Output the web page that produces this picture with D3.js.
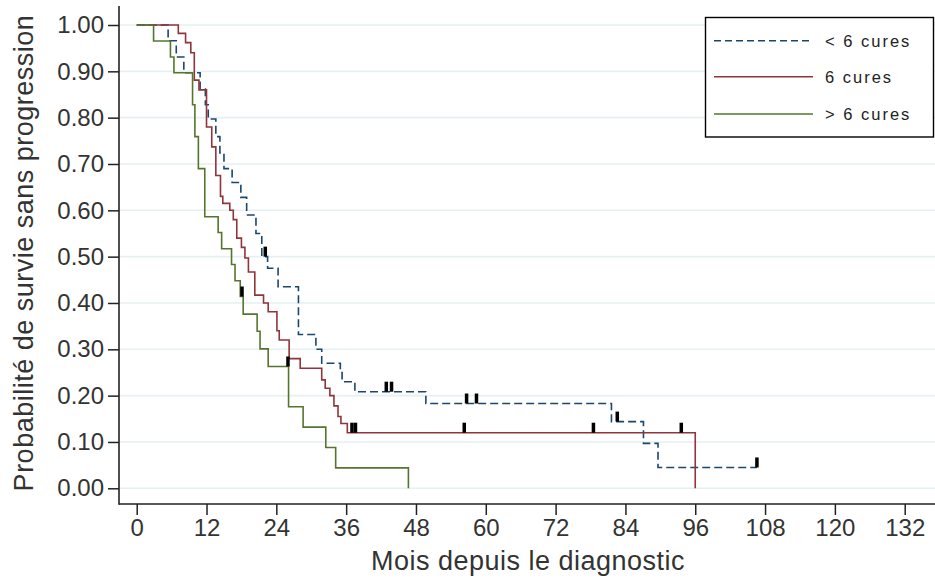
<!DOCTYPE html>
<html>
<head>
<meta charset="utf-8">
<script src="https://cdn.jsdelivr.net/npm/d3@7"></script>
<style>
  html, body { margin: 0; padding: 0; background: #fff; }
  svg { display: block; font-family: "Liberation Sans", Arial, sans-serif; }
</style>
</head>
<body>
<svg id="chart" width="935" height="579"></svg>
<script>
// ---- data ----
const groups = ["< 6 cures", "6 cures", "> 6 cures"];
const xTicks = [0, 12, 24, 36, 48, 60, 72, 84, 96, 108, 120, 132];
const yTicks = [0, 0.1, 0.2, 0.3, 0.4, 0.5, 0.6, 0.7, 0.8, 0.9, 1.0];
const xTitle = "Mois depuis le diagnostic";
const yTitle = "Probabilité de survie sans progression";

// Kaplan-Meier steps: [month, survival after the step]
const stepsLess6 = [[0,1],[5.4,0.966],[6.8,0.931],[8.1,0.897],[10.9,0.862],[11.8,0.828],[12.3,0.797],
  [13.6,0.759],[14.3,0.724],[15.0,0.690],[16.4,0.660],[17.9,0.628],[18.9,0.59],[20.5,0.55],[21.5,0.50],
  [22.5,0.475],[24.3,0.435],[27.8,0.332],[30.8,0.30],[31.8,0.27],[35.0,0.25],[35.3,0.23],[37.5,0.2085],
  [49.7,0.183],[81.6,0.144],[87.1,0.097],[89.6,0.045],[106.6,0.045]];
const censLess6 = [22.1, 42.9, 43.8, 56.7, 58.4, 82.6, 106.6];

const steps6 = [[0,1],[7.15,0.982],[8.4,0.962],[9.3,0.94],[9.9,0.881],[10.7,0.86],[12.0,0.78],[12.9,0.737],
  [13.6,0.675],[14.4,0.63],[14.8,0.615],[16.0,0.60],[16.6,0.58],[17.2,0.54],[18.0,0.52],[18.6,0.497],
  [19.2,0.467],[20.3,0.417],[21.8,0.40],[22.6,0.381],[24.1,0.34],[24.5,0.32],[26.2,0.28],[28.1,0.259],
  [31.8,0.234],[32.4,0.216],[33.2,0.20],[33.9,0.178],[34.6,0.155],[35.1,0.14],[36.2,0.12],[96.0,0]];
const cens6 = [37.0, 37.6, 56.3, 78.5, 93.6];

const stepsMore6 = [[0,1],[2.9,0.9655],[5.8,0.931],[6.4,0.897],[9.6,0.828],[10.0,0.759],[10.6,0.690],
  [11.7,0.586],[14.0,0.552],[14.6,0.517],[16.3,0.483],[16.9,0.448],[17.8,0.414],[18.3,0.376],[20.7,0.339],
  [21.2,0.301],[22.6,0.263],[26.1,0.176],[28.6,0.132],[32.5,0.088],[34.2,0.044],[46.7,0]];
const censMore6 = [18.1, 26.0];

const colors = ["#1a476f", "#90353b", "#55752f"];

// ---- layout ----
const svg = d3.select("#chart");
const x = d3.scaleLinear().domain([0, 132]).range([136.7, 904.7]);
const y = d3.scaleLinear().domain([0, 1]).range([488.3, 25]);
const plotLeft = 119, plotRight = 935, axisY = 504, plotTop = 6;

// gridlines
svg.append("g").selectAll("line").data(yTicks).join("line")
  .attr("x1", plotLeft).attr("x2", plotRight)
  .attr("y1", d => y(d)).attr("y2", d => y(d))
  .attr("stroke", "#e6eff2").attr("stroke-width", 1.6);

// axes
const yAxis = d3.axisLeft(y).tickValues(yTicks).tickFormat(d3.format(".2f")).tickSize(11).tickPadding(4);
const gy = svg.append("g").attr("transform", `translate(${plotLeft},0)`).call(yAxis);
gy.select(".domain").remove();
gy.selectAll(".tick line").attr("stroke", "#222").attr("stroke-width", 1.5);
gy.selectAll(".tick text").attr("font-size", 24).attr("fill", "#333")
  .attr("font-family", "Liberation Sans, Arial, sans-serif");

const xAxis = d3.axisBottom(x).tickValues(xTicks).tickFormat(d3.format("d")).tickSize(11).tickPadding(4);
const gx = svg.append("g").attr("transform", `translate(0,${axisY})`).call(xAxis);
gx.select(".domain").remove();
gx.selectAll(".tick line").attr("stroke", "#222").attr("stroke-width", 1.5);
gx.selectAll(".tick text").attr("font-size", 24).attr("fill", "#333")
  .attr("font-family", "Liberation Sans, Arial, sans-serif");

svg.append("line").attr("x1", plotLeft).attr("x2", plotLeft).attr("y1", plotTop).attr("y2", axisY + 0.75)
  .attr("stroke", "#222").attr("stroke-width", 1.6);
svg.append("line").attr("x1", plotLeft).attr("x2", plotRight).attr("y1", axisY).attr("y2", axisY)
  .attr("stroke", "#222").attr("stroke-width", 1.6);

// titles
svg.append("text").attr("x", 528).attr("y", 570).attr("text-anchor", "middle")
  .attr("font-size", 27).attr("letter-spacing", 0.5).attr("fill", "#333").text(xTitle);
svg.append("text").attr("transform", "translate(33,253) rotate(-90)").attr("text-anchor", "middle")
  .attr("font-size", 27).attr("letter-spacing", 0.5).attr("fill", "#333").text(yTitle);

// curves
const line = d3.line().x(d => x(d[0])).y(d => y(d[1])).curve(d3.curveStepAfter);
const series = [stepsLess6, steps6, stepsMore6];
const censors = [censLess6, cens6, censMore6];
series.forEach((s, i) => {
  svg.append("path").datum(s).attr("d", line).attr("fill", "none")
    .attr("stroke", colors[i]).attr("stroke-width", 1.6)
    .attr("stroke-dasharray", i === 0 ? "8,4" : null);
});
function levelAt(s, t) {
  let v = s[0][1];
  for (const p of s) { if (p[0] <= t) v = p[1]; }
  return v;
}
censors.forEach((c, i) => {
  svg.append("g").selectAll("rect").data(c).join("rect")
    .attr("x", d => x(d) - 1.75).attr("y", d => y(levelAt(series[i], d)) - 10)
    .attr("width", 3.5).attr("height", 10).attr("fill", "#000");
});

// legend
const lg = svg.append("g");
lg.append("rect").attr("x", 705.5).attr("y", 17.5).attr("width", 228).attr("height", 119.5)
  .attr("fill", "#fff").attr("stroke", "#000").attr("stroke-width", 1.4);
const legY = [40.7, 76.7, 114];
groups.forEach((g, i) => {
  lg.append("line").attr("x1", 714).attr("x2", 813).attr("y1", legY[i]).attr("y2", legY[i])
    .attr("stroke", colors[i]).attr("stroke-width", 1.6)
    .attr("stroke-dasharray", i === 0 ? "7,4" : null);
  lg.append("text").attr("x", 825).attr("y", legY[i]).attr("dy", "0.36em")
    .attr("font-size", 16.5).attr("letter-spacing", 2).attr("fill", "#222").text(g);
});
</script>
</body>
</html>
